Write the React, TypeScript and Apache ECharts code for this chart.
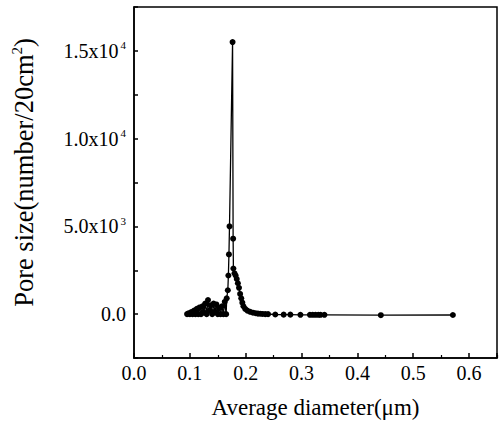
import React, { useEffect, useRef } from "react";
import * as echarts from "echarts";

// Average diameter (µm)
const diameters: number[] = [
  0.095, 0.0975, 0.1, 0.1025, 0.105, 0.1075, 0.11, 0.1125, 0.115, 0.1175,
  0.12, 0.1225, 0.125, 0.1275, 0.13, 0.1325, 0.135, 0.1375, 0.14, 0.1425,
  0.145, 0.1475, 0.15, 0.1525, 0.155, 0.1575, 0.16, 0.1625, 0.165, 0.166,
  0.168, 0.169, 0.17, 0.171, 0.1765, 0.1775, 0.178, 0.18, 0.182, 0.184,
  0.186, 0.188, 0.19, 0.192, 0.194, 0.196, 0.199, 0.203, 0.208, 0.213,
  0.218, 0.222, 0.226, 0.23, 0.235, 0.24, 0.253, 0.268, 0.28, 0.298,
  0.315, 0.32, 0.325, 0.33, 0.334, 0.341, 0.442, 0.571,
];

// Pore size (number / 20 cm²)
const poreCounts: number[] = [
  0, 50, 0, 120, 0, 200, 0, 300, 0, 380,
  0, 450, 100, 600, 0, 800, 200, 500, 0, 600,
  150, 550, 0, 350, 0, 450, 0, 700, 0, 900,
  1360, 2200, 3400, 5000, 15500, 4300, 2600, 2330, 2200, 2000,
  1760, 1500, 1150, 900, 650, 450, 300, 200, 130, 80,
  50, 30, 20, 10, 0, 0, -20, -30, -30, -40,
  -40, -40, -40, -40, -40, -40, -60, -50,
];

const xTickLabels: string[] = ["0.0", "0.1", "0.2", "0.3", "0.4", "0.5", "0.6"];
const yTickValues: number[] = [0, 5000, 10000, 15000];
const yTickLabels: string[] = ["0.0", "{m|5.0x10}{s|3}", "{m|1.0x10}{s|4}", "{m|1.5x10}{s|4}"];

const FONT = "Liberation Serif";

export default function App() {
  const ref = useRef<HTMLDivElement>(null);

  useEffect(() => {
    if (!ref.current) return;
    const chart = echarts.init(ref.current, undefined, { renderer: "svg" });
    const data = diameters.map((d, i) => [d, poreCounts[i]]);

    chart.setOption({
      animation: false,
      backgroundColor: "#fff",
      grid: {
        left: 134,
        right: 3,
        top: 7,
        bottom: 66,
        show: true,
        borderColor: "#000",
        borderWidth: 1.5,
      },
      xAxis: {
        type: "value",
        min: 0,
        max: 0.65,
        interval: 0.1,
        name: "Average diameter(μm)",
        nameLocation: "middle",
        nameGap: 38,
        nameTextStyle: { fontFamily: FONT, fontSize: 23, color: "#000" },
        axisLine: { show: true, onZero: false, lineStyle: { color: "#000", width: 1.5 } },
        axisTick: { show: true, inside: true, length: 5, lineStyle: { color: "#000", width: 1.5 } },
        minorTick: { show: true, splitNumber: 2, length: 3, lineStyle: { color: "#000", width: 1.2 } },
        splitLine: { show: false },
        axisLabel: {
          margin: 5,
          fontFamily: FONT,
          fontSize: 20,
          color: "#000",
          formatter: (v: number) => {
            const k = Math.round(v * 10);
            if (Math.abs(v * 10 - k) < 1e-6 && k >= 0 && k < xTickLabels.length) return xTickLabels[k];
            return "";
          },
        },
      },
      yAxis: {
        type: "value",
        min: -2500,
        max: 17500,
        interval: 2500,
        name: "{t|Pore size(number/20cm}{s|2}{t|)}",
        nameLocation: "middle",
        nameGap: 96,
        nameRotate: 90,
        nameTextStyle: {
          padding: [0, 0, 0, 20],
          rich: {
            t: { fontFamily: FONT, fontSize: 26.5, color: "#000", lineHeight: 29 },
            s: { fontFamily: FONT, fontSize: 15, color: "#000", verticalAlign: "top", lineHeight: 16 },
          },
        },
        axisLine: { show: true, onZero: false, lineStyle: { color: "#000", width: 1.5 } },
        axisTick: { show: true, inside: true, length: 4, lineStyle: { color: "#000", width: 1.5 } },
        splitLine: { show: false },
        axisLabel: {
          margin: 8,
          fontFamily: FONT,
          fontSize: 20,
          color: "#000",
          formatter: (v: number) => {
            const i = yTickValues.indexOf(v);
            return i >= 0 ? yTickLabels[i] : "";
          },
          rich: {
            m: { fontFamily: FONT, fontSize: 20, color: "#000", lineHeight: 22 },
            s: { fontFamily: FONT, fontSize: 11, color: "#000", verticalAlign: "top", lineHeight: 12, padding: [0, 0, 0, 2] },
          },
        },
      },
      series: [
        {
          type: "line",
          data,
          symbol: "circle",
          symbolSize: 6,
          showSymbol: true,
          lineStyle: { color: "#000", width: 1.3 },
          itemStyle: { color: "#000" },
        },
      ],
    });

    return () => chart.dispose();
  }, []);

  return (
    <div
      ref={ref}
      style={{ position: "fixed", left: 0, top: 0, width: 500, height: 424, background: "#fff" }}
    />
  );
}
